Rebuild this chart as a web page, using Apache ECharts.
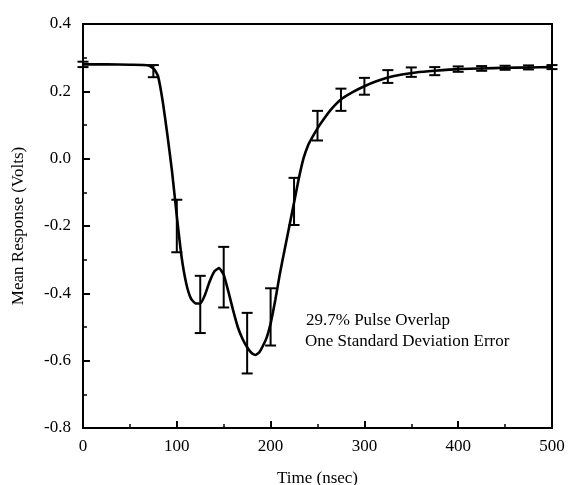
<!DOCTYPE html>
<html>
<head>
<meta charset="utf-8">
<script src="https://cdn.jsdelivr.net/npm/echarts@6/dist/echarts.min.js"></script>
<style>
html,body{margin:0;padding:0;background:#fff;}
#chart{width:569px;height:485px;}
</style>
</head>
<body>
<div id="chart"></div>
<script>
// Mean response curve (time in nsec, volts)
var curveTime = [0,25,50,70,76,80,85,90,95,100,105,110,115,120,125,130,135,140,145,150,155,160,165,170,175,180,184,188,192,196,200,205,210,215,220,225,230,235,240,245,250,256,265,275,287,300,312,325,340,355,375,400,425,450,475,500];
var curveValue = [0.28,0.28,0.279,0.277,0.265,0.245,0.17,0.07,-0.04,-0.17,-0.29,-0.37,-0.415,-0.43,-0.43,-0.405,-0.365,-0.335,-0.325,-0.345,-0.395,-0.45,-0.5,-0.535,-0.56,-0.578,-0.583,-0.575,-0.555,-0.53,-0.49,-0.42,-0.34,-0.27,-0.2,-0.13,-0.06,0.0,0.04,0.066,0.09,0.115,0.148,0.176,0.197,0.215,0.229,0.241,0.25,0.256,0.261,0.266,0.268,0.27,0.271,0.272];

// Error bars: time, mean, one standard deviation
var errTime = [0,75,100,125,150,175,200,225,250,275,300,325,350,375,400,425,450,475,500];
var errMean = [0.28,0.26,-0.2,-0.433,-0.352,-0.548,-0.47,-0.127,0.098,0.175,0.215,0.244,0.257,0.26,0.266,0.268,0.27,0.271,0.272];
var errSd   = [0.008,0.018,0.078,0.085,0.09,0.09,0.085,0.07,0.044,0.033,0.025,0.019,0.014,0.012,0.008,0.007,0.006,0.006,0.006];

var xTicks = [0,100,200,300,400,500];
var yTicks = [-0.8,-0.6,-0.4,-0.2,0.0,0.2,0.4];

var annotation = ['29.7% Pulse Overlap', 'One Standard Deviation Error'];

var FONT = '"Liberation Serif", "DejaVu Serif", serif';

var curveData = curveTime.map(function(t,i){return [t, curveValue[i]];});
var errData = errTime.map(function(t,i){return [t, errMean[i], errSd[i]];});

var chart = echarts.init(document.getElementById('chart'));
chart.setOption({
  animation:false,
  backgroundColor:'#fff',
  grid:{left:83,right:17,top:24,bottom:57,outerBoundsMode:'none',containLabel:false,show:true,borderColor:'#000',borderWidth:2,backgroundColor:'transparent'},
  xAxis:{
    type:'value', min:xTicks[0], max:xTicks[xTicks.length-1], interval:100,
    name:'Time (nsec)', nameLocation:'middle', nameGap:42,
    nameTextStyle:{fontFamily:FONT,fontSize:17,color:'#000'},
    axisLine:{onZero:false,lineStyle:{color:'#000',width:2}},
    axisTick:{inside:true,length:7,lineStyle:{color:'#000',width:2}},
    minorTick:{show:true,splitNumber:2,length:4,lineStyle:{color:'#000',width:1.5}},
    axisLabel:{fontFamily:FONT,fontSize:17,color:'#000',margin:10},
    splitLine:{show:false}
  },
  yAxis:{
    type:'value', min:yTicks[0], max:yTicks[yTicks.length-1], interval:0.2,
    name:'Mean Response (Volts)', nameLocation:'middle', nameGap:56,
    nameTextStyle:{fontFamily:FONT,fontSize:17,color:'#000'},
    axisLine:{onZero:false,lineStyle:{color:'#000',width:2}},
    axisTick:{inside:true,length:7,lineStyle:{color:'#000',width:2}},
    minorTick:{show:true,splitNumber:2,length:4,lineStyle:{color:'#000',width:1.5}},
    axisLabel:{fontFamily:FONT,fontSize:17,color:'#000',margin:12,formatter:function(v){return v.toFixed(1);}},
    splitLine:{show:false}
  },
  series:[
    {
      type:'line', data:curveData, smooth:0.15, showSymbol:false,
      lineStyle:{color:'#000',width:2.6}, z:3
    },
    {
      type:'custom', data:errData, z:4,
      renderItem:function(params, api){
        var x = api.value(0), m = api.value(1), e = api.value(2);
        var top = api.coord([x, m+e]);
        var bot = api.coord([x, m-e]);
        var hw = 5.5;
        var st = {stroke:'#000', lineWidth:2};
        return {type:'group', children:[
          {type:'line', shape:{x1:top[0],y1:top[1],x2:bot[0],y2:bot[1]}, style:st},
          {type:'line', shape:{x1:top[0]-hw,y1:top[1],x2:top[0]+hw,y2:top[1]}, style:st},
          {type:'line', shape:{x1:bot[0]-hw,y1:bot[1],x2:bot[0]+hw,y2:bot[1]}, style:st}
        ]};
      }
    }
  ],
  graphic:[
    {type:'text', left:306, top:312, style:{text:annotation[0], font:'17px ' + FONT, fill:'#000'}},
    {type:'text', left:305, top:333, style:{text:annotation[1], font:'17px ' + FONT, fill:'#000'}}
  ]
});
</script>
</body>
</html>
